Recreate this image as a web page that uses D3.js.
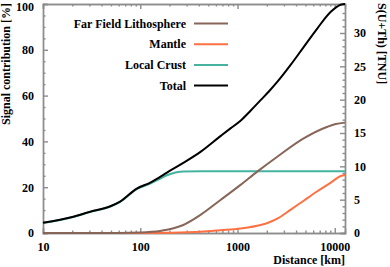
<!DOCTYPE html>
<html>
<head>
<meta charset="utf-8">
<script src="https://cdn.jsdelivr.net/npm/d3@7/dist/d3.min.js"></script>
<style>
  body { margin: 0; background: #fff; }
  svg { display: block; font-family: "Liberation Serif", "DejaVu Serif", serif; font-weight: bold; }
  .axis path, .axis line { stroke: #8c8c8c; stroke-width: 1.4; }
  .axis text { fill: #000; font-size: 12px; font-family: "Liberation Serif", serif; font-weight: bold; }
</style>
</head>
<body>
<div id="main"></div>
<script>
// distance [km] vs signal contribution [%]
const total = [[10, 4.5], [20, 7], [30, 9.2], [50, 11.8], [62, 13.7], [92, 19.4], [127, 22], [153, 24], [188, 26.4],
  [277, 30.6], [416, 35.4], [668, 42.3], [847, 45.7], [1074, 49], [1361, 53.4], [1726, 58], [2100, 61.8],
  [2600, 66.3], [3516, 73.4], [4827, 81.4], [6633, 89.4], [9100, 96.6], [11500, 99.7], [12742, 100]];
const crust = [[10, 4.4], [20, 6.9], [30, 9.1], [50, 11.7], [62, 13.6], [92, 19.2], [127, 21.6], [153, 23.3],
  [188, 25.2], [230, 26.4], [277, 26.9], [416, 27], [1000, 27], [12742, 27]];
const litho = [[10, 0], [60, 0], [100, 0.2], [130, 0.5], [160, 0.9], [188, 1.4], [277, 3.5], [416, 7.9], [668, 14.4],
  [1074, 21], [1596, 26.8], [2564, 33.3], [4786, 41.3], [8414, 46.4], [10230, 47.6], [12742, 48.2]];
const mantle = [[10, 0], [100, 0], [200, 0.1], [416, 0.5], [668, 1.2], [1074, 2], [1726, 3.5], [2100, 4.6],
  [2649, 6.6], [3500, 10.1], [4786, 14.1], [6500, 18], [9100, 22], [11530, 24.9], [12742, 25.3]];

const series = [
  { name: 'Local Crust', color: '#45b3a0', data: crust },
  { name: 'Mantle', color: '#ff7042', data: mantle },
  { name: 'Far Field Lithosphere', color: '#876659', data: litho },
  { name: 'Total', color: '#000000', data: total }
];
const legendOrder = ['Far Field Lithosphere', 'Mantle', 'Local Crust', 'Total'];

const xTicks = [10, 100, 1000, 10000];
const yTicks = [0, 20, 40, 60, 80, 100];
const tnuTicks = [0, 5, 10, 15, 20, 25, 30];
const tnuMax = 34.35;

function main() {
  const width = 390;
  const height = 267;
  const left = 43, right = 345, top = 4, bottom = 233;

  const x = d3.scaleLog().domain([10, 12742]).range([left, right]);
  const y = d3.scaleLinear().domain([0, 100]).range([bottom, top]);
  const y2 = d3.scaleLinear().domain([0, tnuMax]).range([bottom, top]);

  const xMinor = [];
  for (let dec = 10; dec < 12742; dec *= 10) {
    for (let k = 2; k <= 9; k += 1) if (dec * k < 12742) xMinor.push(dec * k);
  }
  const yMinor = d3.range(0, 101, 5).filter(v => v % 20 !== 0);
  const tnuMinor = d3.range(0, 34, 1).filter(v => v % 5 !== 0);

  const svg = d3.select('#main')
    .append('svg')
    .attr('width', width)
    .attr('height', height);

  // minor ticks
  svg.append('g').attr('class', 'axis').attr('transform', `translate(0,${bottom})`)
    .call(d3.axisBottom(x).tickValues(xMinor).tickSize(-2.5).tickFormat(''));
  svg.append('g').attr('class', 'axis').attr('transform', `translate(0,${top})`)
    .call(d3.axisTop(x).tickValues(xMinor).tickSize(-2.5).tickFormat(''));
  svg.append('g').attr('class', 'axis').attr('transform', `translate(${left},0)`)
    .call(d3.axisLeft(y).tickValues(yMinor).tickSize(-2.5).tickFormat(''));
  svg.append('g').attr('class', 'axis').attr('transform', `translate(${right},0)`)
    .call(d3.axisRight(y2).tickValues(tnuMinor).tickSize(-2.5).tickFormat(''));

  // major ticks
  svg.append('g').attr('class', 'axis').attr('transform', `translate(0,${bottom})`)
    .call(d3.axisBottom(x).tickValues(xTicks).tickSize(-5).tickPadding(9).tickFormat(d3.format('d')));
  svg.append('g').attr('class', 'axis').attr('transform', `translate(0,${top})`)
    .call(d3.axisTop(x).tickValues(xTicks).tickSize(-5).tickFormat(''));
  const yAxisG = svg.append('g').attr('class', 'axis').attr('transform', `translate(${left},0)`)
    .call(d3.axisLeft(y).tickValues(yTicks).tickSize(-5).tickPadding(9));
  yAxisG.selectAll('text').filter(d => d === 100).attr('dy', '0.5em');
  svg.append('g').attr('class', 'axis').attr('transform', `translate(${right},0)`)
    .call(d3.axisRight(y2).tickValues(tnuTicks).tickSize(-5).tickPadding(9));

  const line = d3.line()
    .x(d => x(d[0]))
    .y(d => y(d[1]))
    .curve(d3.curveMonotoneX);

  svg.selectAll('path.curve')
    .data(series)
    .enter()
    .append('path')
    .attr('class', 'curve')
    .attr('d', d => line(d.data))
    .attr('fill', 'none')
    .attr('stroke', d => d.color)
    .attr('stroke-width', 2);

  // legend
  const legend = svg.append('g');
  legendOrder.forEach((name, i) => {
    const s = series.find(d => d.name === name);
    const ly = 23.5 + i * 20.7;
    legend.append('text')
      .attr('x', 186)
      .attr('y', ly + 4)
      .style('font-size', '12px')
      .style('text-anchor', 'end')
      .text(name);
    legend.append('line')
      .attr('x1', 194).attr('x2', 228)
      .attr('y1', ly).attr('y2', ly)
      .attr('stroke', s.color)
      .attr('stroke-width', 2);
  });

  svg.append('text')
    .attr('transform', 'rotate(-90)')
    .attr('x', -3)
    .attr('y', 10)
    .style('font-size', '12px')
    .style('text-anchor', 'end')
    .text('Signal contribution [%]');

  svg.append('text')
    .attr('transform', 'rotate(90)')
    .attr('x', 3)
    .attr('y', -378)
    .style('font-size', '12px')
    .style('text-anchor', 'start')
    .text('S(U+Th) [TNU]');

  svg.append('text')
    .attr('x', right)
    .attr('y', 264)
    .style('font-size', '12px')
    .style('text-anchor', 'end')
    .text('Distance [km]');
}

main();
</script>
</body>
</html>
